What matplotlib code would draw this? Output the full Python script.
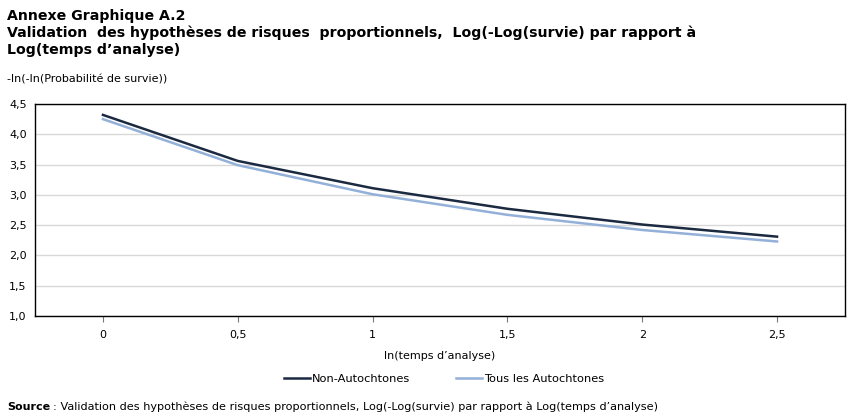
import matplotlib.pyplot as plt
from matplotlib.ticker import FuncFormatter

# ln(analysis time) and -ln(-ln(survival probability))
x_vals = [0, 0.5, 1, 1.5, 2, 2.5]
non_autochtones = [4.32, 3.56, 3.11, 2.77, 2.51, 2.31]
tous_autochtones = [4.25, 3.49, 3.01, 2.67, 2.42, 2.23]

plt.rcParams['font.family'] = ['DejaVu Sans']

fig = plt.figure(figsize=(8.55, 4.18), dpi=100)
ax = fig.add_axes([35 / 855, 1 - 316 / 418, 810 / 855, 212 / 418])

ax.plot(x_vals, non_autochtones, color='#1b2a41', lw=1.8, label='Non-Autochtones')
ax.plot(x_vals, tous_autochtones, color='#93b0d8', lw=1.8, label='Tous les Autochtones')

ax.set_xlim(-0.252, 2.752)
ax.set_ylim(1.0, 4.5)
ax.set_yticks([1.0, 1.5, 2.0, 2.5, 3.0, 3.5, 4.0, 4.5])
ax.set_xticks(x_vals)

comma = FuncFormatter(lambda v, p: ('%g' % v).replace('.', ','))
ax.xaxis.set_major_formatter(comma)
ax.yaxis.set_major_formatter(FuncFormatter(lambda v, p: ('%.1f' % v).replace('.', ',')))

ax.grid(axis='y', color='#d9d9d9', lw=1)
ax.set_axisbelow(True)
for s in ax.spines.values():
    s.set_color('black')
    s.set_linewidth(1)
ax.tick_params(axis='y', length=0, labelsize=8, pad=6)
ax.tick_params(axis='x', length=4, labelsize=8, color='#777777', pad=6)

ax.set_xlabel('ln(temps d\u2019analyse)', fontsize=8, labelpad=8)

fig.text(7 / 855, 1 - 16 / 418, 'Annexe Graphique A.2', fontsize=10.2, fontweight='bold', va='center')
fig.text(7 / 855, 1 - 33 / 418,
         'Validation  des hypoth\u00e8ses de risques  proportionnels,  Log(-Log(survie) par rapport \u00e0',
         fontsize=10.2, fontweight='bold', va='center')
fig.text(7 / 855, 1 - 50 / 418, 'Log(temps d\u2019analyse)', fontsize=10.2, fontweight='bold', va='center')
fig.text(7 / 855, 1 - 80 / 418, '-ln(-ln(Probabilit\u00e9 de survie))', fontsize=8, va='center')

fig.legend(loc='center', bbox_to_anchor=(444 / 855, 1 - 379 / 418), ncol=2, frameon=False,
           fontsize=8.2, handlelength=2.3, handletextpad=0.15, columnspacing=4)

fig.text(7 / 855, 1 - 407 / 418, 'Source', fontsize=8, fontweight='bold', va='center')
fig.text(53 / 855, 1 - 407 / 418,
         ': Validation des hypoth\u00e8ses de risques proportionnels, Log(-Log(survie) par rapport \u00e0 Log(temps d\u2019analyse)',
         fontsize=8.1, va='center')

fig.savefig('out.png', dpi=100)
